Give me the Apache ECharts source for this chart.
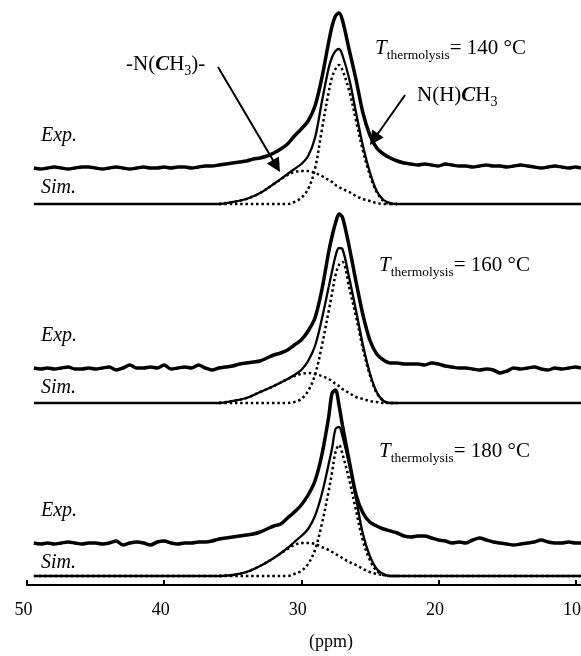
<!DOCTYPE html>
<html>
<head>
<meta charset="utf-8">
<script src="https://cdn.jsdelivr.net/npm/echarts@6/dist/echarts.min.js"></script>
<style>
  html, body { margin: 0; background: #fff; }
  #chart { width: 581px; height: 656px; }
</style>
</head>
<body>
<div id="chart"></div>
<script>
// chemical shift positions (ppm) of the sampled points
const expPpm = [49.5, 49, 48.5, 48, 47.5, 47, 46.5, 46, 45.5, 45,
  44.5, 44, 43.5, 43, 42.5, 42, 41.5, 41, 40.5, 40,
  39.5, 39, 38.5, 38, 37.5, 37, 36.5, 36, 35.5, 35,
  34.5, 34, 33.5, 33, 32.5, 32, 31.5, 31, 30.5, 30,
  29.5, 29, 28.5, 28, 27.75, 27.5, 27.25, 27, 26.5, 26,
  25.5, 25, 24.5, 24, 23.5, 23, 22.5, 22, 21.5, 21,
  20.5, 20, 19.5, 19, 18.5, 18, 17.5, 17, 16.5, 16,
  15.5, 15, 14.5, 14, 13.5, 13, 12.5, 12, 11.5, 11,
  10.5, 10, 9.6];
const fitPpm = [49.5, 45, 40, 37, 36, 35, 34, 33, 32, 31,
  30.5, 30, 29.5, 29, 28.5, 28, 27.75, 27.5, 27.25, 27,
  26.5, 26, 25.5, 25, 24.5, 24, 23.5, 23, 20, 15,
  9.6];

// 140 °C  (null = component not drawn there)
const exp140 = [0, -1, 0, 1, 0, -1, 0, 1, 1, 0,
  -1, 0, 1, 0, -1, 0, 1, 0, 0, 1,
  0, 1, 1, 0, 1, 2, 2, 3, 4, 5,
  6, 7, 9, 10, 12, 15, 19, 24, 32, 39,
  47, 62, 90, 126, 142, 152, 155, 148, 118, 88,
  55, 33, 20, 14, 10, 7, 5, 4, 3, 4,
  3, 2, 4, 3, 2, 2, 1, 2, 3, 2,
  2, 1, 2, 3, 2, 1, 0, 1, 2, 1,
  0, 1, 0];
const sim140 = [0, 0, 0, 0, 0, 2, 5, 11, 20, 30,
  35, 40, 48, 66, 102, 136, 147, 153, 155, 149,
  125, 91, 58, 32, 13, 4, 1, 0, 0, 0,
  0];
const main140 = [null, null, null, null, 0, 0, 0, 0, 0, 0,
  2, 6, 15, 35, 74, 112, 127, 135, 139, 134,
  113, 83, 53, 29, 12, 3, 0, 0, null, null,
  null];
const broad140 = [null, null, null, null, 0, 2, 5, 11, 20, 29,
  32, 33, 33, 31, 28, 24, 22, 19, 17, 15,
  12, 8, 5, 3, 1, 0, 0, 0, null, null,
  null];

// 160 °C
const exp160 = [0, -1, 0, -1, 0, 1, -1, -1, 0, -1,
  0, 1, -2, 0, 3, 0, 0, 1, 0, 3,
  -1, 0, 1, 0, 3, 0, -2, 0, 1, 2,
  4, 5, 6, 7, 10, 13, 15, 18, 23, 28,
  37, 50, 78, 116, 132, 145, 154, 151, 121, 86,
  53, 28, 14, 8, 5, 5, 4, 4, 4, 3,
  5, 4, 2, 1, 0, 0, -1, -2, -1, -2,
  -5, -3, 0, -1, 0, 1, -1, -2, 0, -1,
  0, 1, 0];
const sim160 = [0, 0, 0, 0, 0, 2, 5, 11, 17, 24,
  28, 33, 42, 57, 84, 116, 132, 147, 155, 154,
  125, 92, 58, 30, 11, 2, 0, 0, 0, 0,
  0];
const main160 = [null, null, null, null, 0, 0, 0, 0, 0, 0,
  1, 4, 12, 28, 57, 92, 110, 128, 138, 141,
  115, 86, 54, 28, 10, 2, 0, 0, null, null,
  null];
const broad160 = [null, null, null, null, 0, 2, 5, 11, 17, 24,
  27, 29, 30, 29, 27, 24, 22, 19, 17, 14,
  10, 6, 4, 2, 1, 0, 0, 0, null, null,
  null];

// 180 °C
const exp180 = [0, -1, 0, -1, 0, 1, 0, -1, 0, 0,
  -1, 0, 2, -2, 0, 1, 0, -2, 1, 2,
  0, -1, 0, 0, 1, 1, 2, 4, 5, 6,
  7, 8, 9, 11, 14, 17, 19, 25, 31, 38,
  48, 62, 88, 126, 150, 153, 138, 118, 82, 48,
  30, 21, 17, 14, 12, 10, 7, 6, 7, 7,
  5, 3, 2, 0, 1, 0, 3, 5, 3, 1,
  0, -1, -2, -1, 0, 1, 3, 1, 0, 0,
  1, 0, 0];
const sim180 = [0, 0, 0, 0, 0, 1, 4, 10, 18, 28,
  34, 40, 47, 60, 82, 112, 128, 147, 149, 140,
  111, 77, 42, 20, 7, 2, 0, 0, 0, 0,
  0];
const main180 = [0, 0, 0, 0, 0, 0, 0, 0, 0, 0,
  2, 5, 12, 26, 52, 85, 104, 124, 131, 122,
  96, 65, 35, 16, 5, 1, 0, 0, 0, 0,
  0];
const broad180 = [null, null, null, null, 0, 1, 4, 10, 18, 27,
  31, 33, 33, 32, 29, 26, 24, 22, 20, 18,
  14, 11, 7, 4, 2, 1, 0, 0, null, null,
  null];

const temps = ['140', '160', '180'];
const tickPpm = [50, 40, 30, 20, 10];

const panels = [
  { exp: exp140, sim: sim140, main: main140, broad: broad140 },
  { exp: exp160, sim: sim160, main: main160, broad: broad160 },
  { exp: exp180, sim: sim180, main: main180, broad: broad180 }
];

// layout
const serif = '"Liberation Serif", "Times New Roman", serif';
const gridTops = [4, 203, 376];
const expShift = [36, 35, 33];
const tLabelPos = [[375, 56], [379, 273], [379, 459]];
const expLabelY = [143, 343, 518];
const simLabelY = [195, 395, 570];

function pairs(xs, ys, shift) {
  let out = [];
  xs.forEach(function (x, i) {
    if (ys[i] !== null) out.push([x, ys[i] + shift]);
  });
  return out;
}

// text pieces placed one after another, so that subscripts can be shifted
const measureCtx = document.createElement('canvas').getContext('2d');
function textRun(x, baseline, parts) {
  let out = [];
  let cx = x;
  parts.forEach(function (p) {
    let size = p.size;
    let font = (p.style || '') + ' ' + size + 'px ' + serif;
    measureCtx.font = font;
    out.push({
      type: 'text',
      x: cx,
      y: baseline + (p.dy || 0) - 0.34 * size,
      silent: true,
      style: {
        text: p.t, font: font, fill: '#000',
        textAlign: 'left', textVerticalAlign: 'middle', verticalAlign: 'middle'
      }
    });
    cx += measureCtx.measureText(p.t).width;
  });
  return out;
}

let grids = [], xAxes = [], yAxes = [], series = [], graphics = [];

panels.forEach(function (pan, k) {
  grids.push({ left: 27, right: 0, top: gridTops[k], height: 200,
    containLabel: false, outerBoundsMode: 'none' });
  let last = k === panels.length - 1;
  xAxes.push({
    gridIndex: k, type: 'value', min: 9.6, max: 50, inverse: true,
    show: last, offset: last ? 9 : 0,
    axisLine: { show: true, onZero: false, lineStyle: { color: '#000', width: 2 } },
    axisTick: { show: true, inside: true, length: 5, customValues: tickPpm,
      lineStyle: { color: '#000', width: 2 } },
    axisLabel: { show: true, customValues: tickPpm, margin: 16, color: '#000',
      fontFamily: serif, fontSize: 18, hideOverlap: false, padding: [0, 7, 0, 0] },
    splitLine: { show: false }
  });
  yAxes.push({ gridIndex: k, type: 'value', min: 0, max: 200, show: false, splitLine: { show: false } });

  let base = { type: 'line', xAxisIndex: k, yAxisIndex: k, showSymbol: false, symbol: 'none',
    smooth: 0.35, clip: false, silent: true, animation: false };
  series.push(Object.assign({}, base, {
    name: 'broad ' + temps[k], data: pairs(fitPpm, pan.broad, 0),
    lineStyle: { color: '#000', width: 2.5, type: [2.5, 2.8] }
  }));
  series.push(Object.assign({}, base, {
    name: 'main ' + temps[k], data: pairs(fitPpm, pan.main, 0),
    lineStyle: { color: '#000', width: 2.5, type: [2.5, 2.8] }
  }));
  let sim = Object.assign({}, base, {
    name: 'Sim. ' + temps[k], data: pairs(fitPpm, pan.sim, 0),
    lineStyle: { color: '#000', width: 2.3 }
  });
  if (k === 0) {
    sim.markLine = {
      silent: true, animation: false,
      symbol: ['none', 'triangle'], symbolSize: 14,
      label: { show: false },
      lineStyle: { color: '#000', width: 2, type: 'solid' },
      emphasis: { disabled: true },
      data: [
        [{ coord: [36.07, 137] }, { coord: [31.81, 38] }],
        [{ coord: [22.43, 109] }, { coord: [24.70, 64.7] }]
      ]
    };
  }
  series.push(sim);
  series.push(Object.assign({}, base, {
    name: 'Exp. ' + temps[k], data: pairs(expPpm, pan.exp, expShift[k]),
    smooth: 0.3,
    lineStyle: { color: '#000', width: 3.5 }
  }));

  graphics = graphics.concat(textRun(41, expLabelY[k], [{ t: 'Exp.', size: 20, style: 'italic' }]));
  graphics = graphics.concat(textRun(41, simLabelY[k], [{ t: 'Sim.', size: 20, style: 'italic' }]));
  graphics = graphics.concat(textRun(tLabelPos[k][0], tLabelPos[k][1], [
    { t: 'T', size: 21, style: 'italic' },
    { t: 'thermolysis', size: 13.5, dy: 4 },
    { t: '= ' + temps[k] + ' °C', size: 21 }
  ]));
});

graphics = graphics.concat(textRun(126, 72, [
  { t: '-N(', size: 21 }, { t: 'C', size: 21, style: 'italic bold' }, { t: 'H', size: 21 },
  { t: '3', size: 14, dy: 4 }, { t: ')-', size: 21 }
]));
graphics = graphics.concat(textRun(417, 103, [
  { t: 'N(H)', size: 21 }, { t: 'C', size: 21, style: 'italic bold' }, { t: 'H', size: 21 },
  { t: '3', size: 14, dy: 4 }
]));
graphics.push({
  type: 'text', x: 331, y: 648 - 0.34 * 18, silent: true,
  style: { text: '(ppm)', font: '18px ' + serif, fill: '#000',
    textAlign: 'center', textVerticalAlign: 'middle', verticalAlign: 'middle' }
});

let chart = echarts.init(document.getElementById('chart'));
chart.setOption({
  backgroundColor: '#fff',
  animation: false,
  grid: grids,
  xAxis: xAxes,
  yAxis: yAxes,
  series: series,
  graphic: graphics
});
</script>
</body>
</html>
